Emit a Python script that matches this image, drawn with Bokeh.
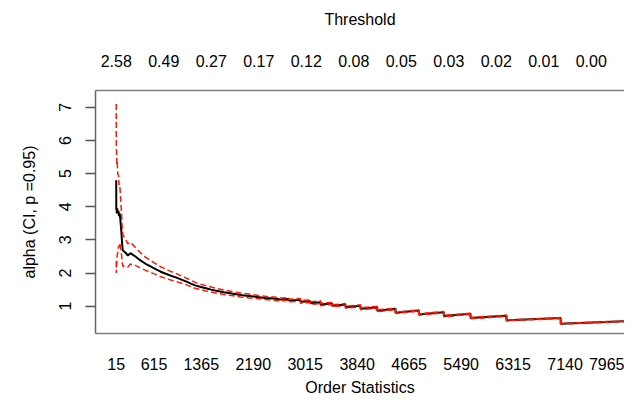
from bokeh.plotting import figure
from bokeh.models import LinearAxis, FixedTicker, Range1d
from bokeh.embed import file_html
from bokeh.resources import INLINE

# ---- data (Hill plot) ----
k_order = [15, 16, 20, 25, 30, 40, 50, 60, 70, 80,
           90, 100, 110, 120, 140, 160, 200, 240, 280, 320,
           400, 480, 560, 640, 720, 800, 880, 960, 1040, 1120,
           1200, 1280, 1360, 1440, 1520, 1620, 1720, 1850, 1990, 2120,
           2250, 2380, 2510, 2623,
           2755, 2755, 2940, 2940, 3099, 3099, 3258, 3258, 3444, 3444,
           3655, 3655, 3893, 3893, 4158, 4158, 4448, 4448, 4818, 4818,
           5215, 5215, 5639, 5639, 6210, 6210, 7070, 7070, 8178]

alpha = [4.80, 3.90, 3.95, 3.80, 3.95, 3.80, 3.88, 3.72, 3.80, 3.62,
         3.40, 3.15, 2.85, 2.68, 2.65, 2.62, 2.53, 2.60, 2.55, 2.50,
         2.38, 2.28, 2.20, 2.12, 2.04, 1.98, 1.92, 1.87, 1.81, 1.75,
         1.68, 1.62, 1.58, 1.54, 1.50, 1.46, 1.42, 1.38, 1.34, 1.31,
         1.28, 1.25, 1.23, 1.20,
         1.22, 1.17, 1.19, 1.13, 1.15, 1.09, 1.12, 1.05, 1.08, 1.01,
         1.05, 0.97, 1.01, 0.92, 0.97, 0.86, 0.92, 0.80, 0.87, 0.75,
         0.82, 0.70, 0.77, 0.64, 0.71, 0.57, 0.64, 0.47, 0.55]

ci_upper = [7.10, 5.80, 5.68, 5.29, 5.36, 4.98, 4.96, 4.66, 4.69, 4.41,
            4.10, 3.77, 3.38, 3.16, 3.09, 3.03, 2.88, 2.93, 2.85, 2.77,
            2.61, 2.48, 2.38, 2.28, 2.19, 2.12, 2.05, 1.99, 1.92, 1.85,
            1.78, 1.71, 1.66, 1.62, 1.58, 1.53, 1.49, 1.44, 1.40, 1.37,
            1.33, 1.30, 1.28, 1.25,
            1.26, 1.21, 1.23, 1.17, 1.19, 1.13, 1.16, 1.09, 1.11, 1.04,
            1.08, 1.00, 1.04, 0.95, 1.00, 0.89, 0.94, 0.82, 0.89, 0.77,
            0.84, 0.72, 0.79, 0.66, 0.73, 0.58, 0.65, 0.48, 0.56]

ci_lower = [2.35, 2.00, 2.22, 2.31, 2.54, 2.62, 2.80, 2.78, 2.91, 2.83,
            2.70, 2.53, 2.32, 2.20, 2.21, 2.21, 2.18, 2.27, 2.25, 2.23,
            2.15, 2.08, 2.02, 1.96, 1.89, 1.84, 1.79, 1.75, 1.70, 1.65,
            1.59, 1.53, 1.50, 1.46, 1.43, 1.39, 1.35, 1.32, 1.28, 1.25,
            1.23, 1.20, 1.18, 1.15,
            1.18, 1.13, 1.15, 1.09, 1.11, 1.05, 1.08, 1.01, 1.05, 0.98,
            1.02, 0.94, 0.98, 0.89, 0.94, 0.83, 0.90, 0.78, 0.85, 0.73,
            0.80, 0.68, 0.75, 0.62, 0.69, 0.56, 0.63, 0.46, 0.54]

order_ticks = [15, 615, 1365, 2190, 3015, 3840, 4665, 5490, 6315, 7140, 7965]
threshold_ticks = [15, 769, 1523, 2277, 3031, 3785, 4539, 5293, 6047, 6801, 7555]
threshold_labels = ["2.58", "0.49", "0.27", "0.17", "0.12", "0.08",
                    "0.05", "0.03", "0.02", "0.01", "0.00"]
y_ticks = [1, 2, 3, 4, 5, 6, 7]

FONT = "Liberation Sans"
FS = "16px"
BOX = "#808080"

p = figure(width=624, height=398, output_backend="svg", toolbar_location=None,
           x_range=Range1d(-314, 8083), y_range=Range1d(0.175, 7.51),
           min_border_left=95, min_border_right=0, min_border_top=90,
           min_border_bottom=65)
p.outline_line_color = None
p.xgrid.visible = False
p.ygrid.visible = False
p.background_fill_color = "white"
p.border_fill_color = "white"

# bottom axis: order statistics
xa = p.xaxis[0]
xa.ticker = FixedTicker(ticks=order_ticks)
xa.major_label_overrides = {t: str(t) for t in order_ticks}
xa.major_tick_in = 0
xa.major_tick_out = 0
xa.minor_tick_line_color = None
xa.axis_line_color = BOX
xa.axis_line_width = 1.5
xa.major_label_standoff = 24
xa.major_label_text_font = FONT
xa.major_label_text_font_size = FS
xa.major_label_text_color = "black"
xa.axis_label = "Order Statistics"
xa.axis_label_standoff = 6
xa.axis_label_text_font = FONT
xa.axis_label_text_font_size = FS
xa.axis_label_text_font_style = "normal"
xa.axis_label_text_color = "black"

# top axis: threshold
ta = LinearAxis(ticker=FixedTicker(ticks=threshold_ticks),
                major_label_overrides=dict(zip(threshold_ticks, threshold_labels)),
                axis_label="Threshold")
ta.major_tick_in = 0
ta.major_tick_out = 0
ta.minor_tick_line_color = None
ta.axis_line_color = BOX
ta.axis_line_width = 1.5
ta.major_label_standoff = 24
ta.major_label_text_font = FONT
ta.major_label_text_font_size = FS
ta.major_label_text_color = "black"
ta.axis_label_standoff = 24
ta.axis_label_text_font = FONT
ta.axis_label_text_font_size = FS
ta.axis_label_text_font_style = "normal"
ta.axis_label_text_color = "black"
p.add_layout(ta, "above")

# left axis
ya = p.yaxis[0]
ya.ticker = FixedTicker(ticks=y_ticks)
ya.major_tick_in = 0
ya.major_tick_out = 10
ya.major_tick_line_color = "#555555"
ya.major_tick_line_width = 1.5
ya.minor_tick_line_color = None
ya.axis_line_color = "#666666"
ya.axis_line_width = 1.5
ya.major_label_orientation = "vertical"
ya.major_label_standoff = 14
ya.major_label_text_font = FONT
ya.major_label_text_font_size = FS
ya.major_label_text_color = "black"
ya.axis_label = "alpha (CI, p =0.95)"
ya.axis_label_standoff = 19
ya.axis_label_text_font = FONT
ya.axis_label_text_font_size = FS
ya.axis_label_text_font_style = "normal"
ya.axis_label_text_color = "black"

# lines
p.line(k_order, alpha, line_color="black", line_width=2)
p.line(k_order, ci_upper, line_color="#ff1a00", line_width=1.5, line_dash="6 3")
p.line(k_order, ci_lower, line_color="#ff1a00", line_width=1.5, line_dash="6 3")

open("out.html", "w").write(file_html(p, INLINE))
